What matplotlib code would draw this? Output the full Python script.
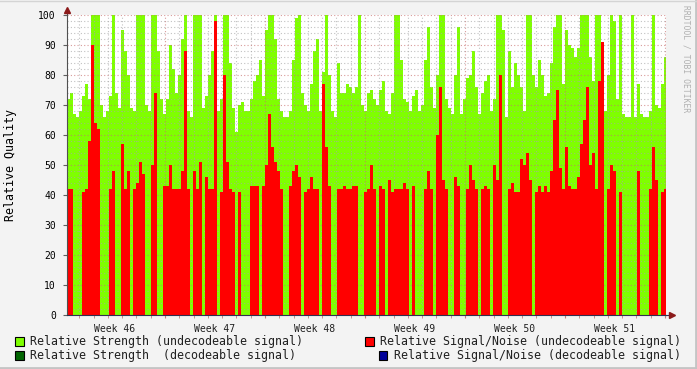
import numpy as np
import matplotlib
matplotlib.use("Agg")
import matplotlib.pyplot as plt
from matplotlib.patches import Rectangle
from matplotlib.ticker import MultipleLocator

plt.rcParams["font.family"] = "DejaVu Sans Mono"

# === Data: 200 samples, one every 0.21 days (about 5 h), starting Monday of week 46 ===
weeks = ["Week 46", "Week 47", "Week 48", "Week 49", "Week 50", "Week 51"]
t0, step = 0.14, 0.21   # days

# Relative Strength (undecodeable signal)
strength_undec = [
    72, 74, 67, 66, 68, 73, 77, 72, 100, 100, 100, 70, 66, 68, 73, 100, 74, 69, 95, 88,
    80, 69, 68, 100, 100, 100, 70, 68, 100, 100, 88, 72, 67, 72, 90, 82, 74, 80, 92, 100,
    68, 66, 100, 100, 100, 69, 73, 80, 88, 100, 68, 72, 100, 100, 84, 69, 61, 70, 71, 68,
    68, 72, 78, 80, 85, 73, 95, 100, 100, 92, 72, 68, 66, 66, 68, 85, 99, 100, 74, 70,
    68, 77, 88, 92, 68, 81, 100, 80, 68, 66, 84, 74, 74, 77, 76, 74, 76, 100, 70, 68,
    74, 75, 72, 70, 75, 78, 68, 67, 74, 100, 100, 85, 72, 71, 68, 73, 75, 68, 70, 85,
    96, 76, 69, 80, 100, 100, 72, 69, 67, 80, 96, 67, 72, 79, 80, 88, 76, 67, 74, 78,
    80, 68, 72, 100, 100, 95, 66, 88, 76, 84, 80, 76, 68, 100, 100, 80, 76, 85, 80, 73,
    74, 84, 96, 100, 100, 77, 95, 90, 89, 86, 89, 100, 100, 100, 86, 78, 100, 100, 78, 68,
    80, 100, 98, 72, 100, 67, 66, 66, 100, 66, 77, 67, 66, 66, 68, 100, 70, 69, 77, 86,
]

# Relative Signal/Noise (undecodeable signal)
snr_undec = [
    42, 42, 0, 0, 0, 41, 42, 58, 90, 64, 62, 0, 0, 0, 42, 48, 0, 0, 57, 42,
    48, 0, 42, 44, 51, 47, 0, 0, 50, 74, 0, 0, 43, 43, 50, 42, 42, 42, 48, 88,
    42, 0, 48, 42, 51, 0, 46, 42, 42, 98, 0, 41, 80, 51, 42, 41, 0, 41, 0, 0,
    0, 43, 43, 43, 0, 43, 50, 67, 56, 51, 48, 42, 0, 0, 43, 48, 50, 46, 0, 41,
    42, 46, 42, 42, 0, 77, 56, 43, 0, 0, 42, 42, 43, 42, 42, 43, 43, 0, 0, 41,
    42, 50, 42, 0, 43, 42, 0, 45, 41, 42, 42, 42, 44, 42, 0, 43, 0, 0, 0, 42,
    48, 42, 0, 60, 76, 45, 42, 0, 0, 46, 43, 0, 0, 42, 50, 45, 42, 0, 42, 43,
    42, 0, 50, 45, 80, 0, 0, 42, 44, 41, 41, 52, 50, 54, 45, 0, 41, 43, 41, 43,
    41, 48, 65, 75, 49, 42, 56, 43, 42, 42, 46, 57, 65, 76, 50, 54, 42, 78, 91, 0,
    42, 50, 48, 0, 41, 0, 0, 0, 0, 0, 48, 0, 0, 0, 42, 56, 45, 0, 41, 42,
]

# decodeable signal series: nothing above zero in this period
strength_dec = [0] * len(strength_undec)
snr_dec = [0] * len(snr_undec)

edges = t0 + step * np.arange(len(strength_undec) + 1)

# === Figure ===
W, H = 697, 369
fig = plt.figure(figsize=(W / 100, H / 100), dpi=100, facecolor="#F3F3F3")
ax = fig.add_axes([67 / W, 1 - 315 / H, 599 / W, 300 / H], facecolor="white")

ax.stairs(strength_undec, edges, fill=True, color="#7FFF00", baseline=0, zorder=2)
ax.stairs(snr_undec, edges, fill=True, color="#FF0000", baseline=0, zorder=3)
ax.stairs(strength_dec, edges, fill=True, color="#006400", baseline=0, zorder=4)
ax.stairs(snr_dec, edges, fill=True, color="#000099", baseline=0, zorder=5)

ax.set_xlim(t0, 42.07)
ax.set_ylim(0, 100)

# grid like rrdtool (drawn on top of the data)
ax.xaxis.set_major_locator(MultipleLocator(7))
ax.xaxis.set_minor_locator(MultipleLocator(1))
ax.yaxis.set_major_locator(MultipleLocator(10))
ax.yaxis.set_minor_locator(MultipleLocator(2))
ax.grid(which="minor", color="#A8A8A8", alpha=0.7, linestyle=(0, (1, 2)), linewidth=0.8, zorder=6)
ax.grid(which="major", color="#C87070", alpha=0.7, linestyle=(0, (1, 2)), linewidth=0.8, zorder=6)
ax.set_axisbelow(False)

ax.set_xticklabels([])
ax.tick_params(axis="x", which="both", length=2, direction="out", color="#C08080")
ax.tick_params(axis="y", which="major", length=3, direction="out", labelsize=7, pad=5, color="#606060")
ax.tick_params(axis="y", which="minor", length=0)
for k, w in enumerate(weeks):
    ax.text(3.5 + 7 * k, -3, w, ha="center", va="top", fontsize=7, color="#202020")

for s in ["top", "right"]:
    ax.spines[s].set_visible(False)
ax.spines["left"].set_color("#505050")
ax.spines["bottom"].set_color("#303050")
ax.spines["left"].set_zorder(7)
ax.spines["bottom"].set_zorder(7)

# axis arrows
ax.plot([1.0, 1.01], [0, 0], color="#303050", lw=0.8, transform=ax.transAxes, clip_on=False)
ax.plot([0, 0], [1.0, 1.015], color="#505050", lw=0.8, transform=ax.transAxes, clip_on=False)
ax.plot(1.01, 0, marker=">", ms=4, color="#8B1A1A", transform=ax.transAxes, clip_on=False)
ax.plot(0, 1.018, marker="^", ms=4, color="#8B1A1A", transform=ax.transAxes, clip_on=False)

fig.text(11 / W, 1 - 165 / H, "Relative Quality", rotation=90, ha="center", va="center", fontsize=8.4)
fig.text(686 / W, 1 - 5 / H, "RRDTOOL / TOBI OETIKER", rotation=270, ha="center", va="top",
         fontsize=5.8, color="#B0B0B0")

# legend
legend = [
    (15, 341.5, 30, "#7FFF00", "Relative Strength (undecodeable signal)"),
    (365, 341.5, 380, "#FF0000", "Relative Signal/Noise (undecodeable signal)"),
    (15, 355, 30, "#006400", "Relative Strength  (decodeable signal)"),
    (379, 355, 394, "#000099", "Relative Signal/Noise (decodeable signal)"),
]
for bx, by, tx, col, label in legend:
    fig.patches.append(Rectangle((bx / W, 1 - (by + 4.5) / H), 8.5 / W, 9 / H, transform=fig.transFigure,
                                 facecolor=col, edgecolor="black", linewidth=0.8))
    fig.text(tx / W, 1 - by / H, label, ha="left", va="center", fontsize=8.4, color="#202020")

# frame
fig.add_artist(plt.Line2D([0, 1], [1.5 / H, 1.5 / H], transform=fig.transFigure, color="#C4C4C4", lw=2))
fig.add_artist(plt.Line2D([1 - 1.5 / W, 1 - 1.5 / W], [0, 1], transform=fig.transFigure, color="#C4C4C4", lw=2))
fig.add_artist(plt.Line2D([0, 1], [1 - 0.5 / H, 1 - 0.5 / H], transform=fig.transFigure, color="#D4D4D4", lw=1))

fig.savefig("out.png", dpi=100, facecolor=fig.get_facecolor())
